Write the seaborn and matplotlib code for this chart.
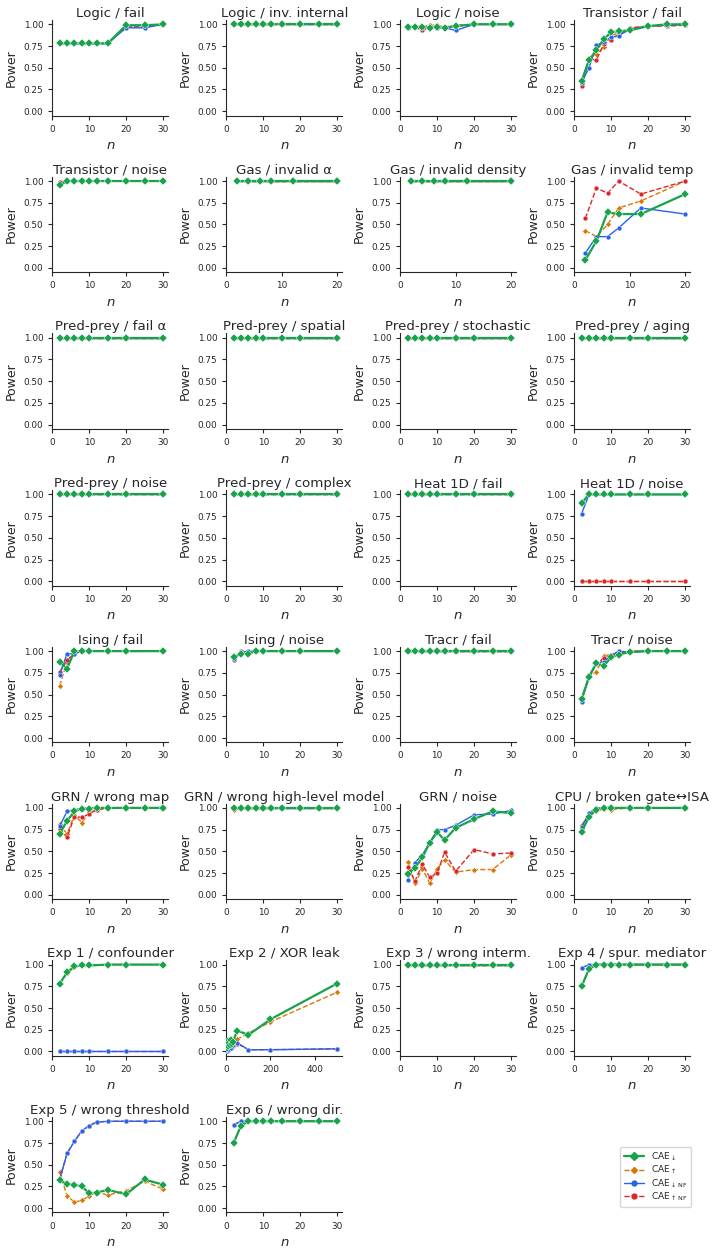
import matplotlib
matplotlib.use("Agg")
import matplotlib.pyplot as plt
import seaborn as sns
import pandas as pd
from matplotlib.lines import Line2D
from matplotlib.ticker import MaxNLocator

sns.set_style("ticks")

# sample sizes
N_STD = [2, 4, 6, 8, 10, 12, 15, 20, 25, 30]
N_MID = [2, 4, 6, 8, 10, 15, 20, 30]
N_GAS = [2, 4, 6, 8, 12, 20]
N_EXP2 = [2, 4, 6, 8, 10, 12, 15, 20, 25, 30, 50, 100, 200, 500]

ONES_STD = [1.0, 1.0, 1.0, 1.0, 1.0, 1.0, 1.0, 1.0, 1.0, 1.0]
ONES_MID = [1.0, 1.0, 1.0, 1.0, 1.0, 1.0, 1.0, 1.0]
ONES_GAS = [1.0, 1.0, 1.0, 1.0, 1.0, 1.0]
ZEROS_MID = [0.0, 0.0, 0.0, 0.0, 0.0, 0.0, 0.0, 0.0]

# series order in each panel: CAE_down, CAE_up, CAE_down_NF, CAE_up_NF
logic_fail_down = [0.78, 0.78, 0.78, 0.78, 0.78, 0.78, 0.78, 0.99, 0.99, 1.0]
logic_fail_up = [0.78, 0.78, 0.78, 0.78, 0.78, 0.78, 0.78, 0.98, 0.98, 1.0]
logic_fail_down_nf = [0.78, 0.78, 0.78, 0.78, 0.78, 0.78, 0.78, 0.96, 0.96, 1.0]
logic_fail_up_nf = [0.78, 0.78, 0.78, 0.78, 0.78, 0.78, 0.78, 0.97, 0.97, 1.0]

logic_noise_down = [0.97, 0.97, 0.97, 0.96, 0.97, 0.96, 0.98, 1.0, 1.0, 1.0]
logic_noise_up = [0.97, 0.98, 0.97, 0.99, 0.99, 0.97, 0.99, 1.0, 1.0, 1.0]
logic_noise_down_nf = [0.96, 0.97, 0.96, 0.97, 0.96, 0.96, 0.93, 1.0, 1.0, 1.0]
logic_noise_up_nf = [0.97, 0.97, 0.93, 0.97, 0.98, 0.97, 0.98, 1.0, 1.0, 1.0]

trans_fail_down = [0.35, 0.59, 0.70, 0.83, 0.91, 0.92, 0.93, 0.98, 1.0, 1.0]
trans_fail_up = [0.33, 0.61, 0.66, 0.74, 0.87, 0.90, 0.95, 0.98, 0.99, 1.0]
trans_fail_down_nf = [0.33, 0.50, 0.76, 0.80, 0.85, 0.87, 0.94, 0.98, 0.99, 1.0]
trans_fail_up_nf = [0.29, 0.60, 0.59, 0.77, 0.82, 0.88, 0.96, 0.98, 0.98, 0.99]

trans_noise_down = [0.95, 1.0, 1.0, 1.0, 1.0, 1.0, 1.0, 1.0, 1.0, 1.0]
trans_noise_up = [0.98, 1.0, 1.0, 1.0, 1.0, 1.0, 1.0, 1.0, 1.0, 1.0]
trans_noise_down_nf = [0.97, 1.0, 1.0, 1.0, 1.0, 1.0, 1.0, 1.0, 1.0, 1.0]
trans_noise_up_nf = [0.99, 1.0, 1.0, 1.0, 1.0, 1.0, 1.0, 1.0, 1.0, 1.0]

gas_temp_down = [0.09, 0.31, 0.64, 0.62, 0.62, 0.85]
gas_temp_up = [0.43, 0.36, 0.50, 0.69, 0.77, 1.0]
gas_temp_down_nf = [0.17, 0.36, 0.36, 0.46, 0.69, 0.62]
gas_temp_up_nf = [0.57, 0.92, 0.86, 1.0, 0.85, 1.0]

heat_noise_down = [0.90, 1.0, 1.0, 1.0, 1.0, 1.0, 1.0, 1.0]
heat_noise_down_nf = [0.78, 1.0, 1.0, 1.0, 1.0, 1.0, 1.0, 1.0]

ising_fail_down = [0.87, 0.80, 1.0, 1.0, 1.0, 1.0, 1.0, 1.0]
ising_fail_up = [0.60, 0.88, 0.98, 1.0, 1.0, 1.0, 1.0, 1.0]
ising_fail_down_nf = [0.73, 0.97, 0.97, 1.0, 1.0, 1.0, 1.0, 1.0]
ising_fail_up_nf = [0.76, 0.90, 0.97, 1.0, 1.0, 1.0, 1.0, 1.0]

ising_noise_down = [0.93, 0.97, 0.97, 1.0, 1.0, 1.0, 1.0, 1.0]
ising_noise_up = [0.92, 0.98, 0.98, 1.0, 1.0, 1.0, 1.0, 1.0]
ising_noise_down_nf = [0.91, 0.99, 1.0, 1.0, 1.0, 1.0, 1.0, 1.0]
ising_noise_up_nf = [0.90, 1.0, 0.99, 1.0, 1.0, 1.0, 1.0, 1.0]

tracr_noise_down = [0.45, 0.70, 0.86, 0.83, 0.93, 0.96, 0.99, 1.0, 1.0, 1.0]
tracr_noise_up = [0.44, 0.70, 0.76, 0.95, 0.96, 0.97, 1.0, 1.0, 1.0, 1.0]
tracr_noise_down_nf = [0.42, 0.72, 0.86, 0.88, 0.95, 1.0, 0.99, 1.0, 1.0, 1.0]
tracr_noise_up_nf = [0.44, 0.72, 0.85, 0.92, 0.96, 0.98, 1.0, 1.0, 1.0, 1.0]

grn_map_down = [0.70, 0.85, 0.96, 0.99, 0.99, 1.0, 1.0, 1.0, 1.0, 1.0]
grn_map_up = [0.81, 0.70, 0.92, 0.83, 0.95, 0.97, 1.0, 1.0, 1.0, 1.0]
grn_map_down_nf = [0.79, 0.96, 0.98, 0.99, 1.0, 1.0, 1.0, 1.0, 1.0, 1.0]
grn_map_up_nf = [0.76, 0.66, 0.90, 0.89, 0.93, 0.98, 1.0, 1.0, 1.0, 1.0]

grn_hl_up = [0.98, 1.0, 1.0, 1.0, 1.0, 1.0, 1.0, 1.0, 1.0, 1.0]

grn_noise_down = [0.24, 0.31, 0.43, 0.60, 0.72, 0.63, 0.77, 0.87, 0.96, 0.94]
grn_noise_up = [0.38, 0.13, 0.30, 0.13, 0.30, 0.40, 0.26, 0.29, 0.29, 0.46]
grn_noise_down_nf = [0.17, 0.37, 0.46, 0.60, 0.75, 0.75, 0.80, 0.92, 0.93, 0.97]
grn_noise_up_nf = [0.32, 0.16, 0.35, 0.20, 0.25, 0.49, 0.27, 0.52, 0.47, 0.48]

cpu_down = [0.72, 0.90, 0.98, 1.0, 1.0, 1.0, 1.0, 1.0]
cpu_up = [0.80, 0.92, 0.96, 0.99, 0.98, 1.0, 1.0, 1.0]
cpu_down_nf = [0.78, 0.94, 1.0, 1.0, 1.0, 1.0, 1.0, 1.0]
cpu_up_nf = [0.77, 0.93, 0.98, 1.0, 1.0, 1.0, 1.0, 1.0]

exp1_down = [0.78, 0.91, 0.98, 0.99, 0.99, 1.0, 1.0, 1.0]
exp1_up = [0.78, 0.90, 0.97, 0.99, 0.99, 1.0, 1.0, 1.0]

exp2_down = [0.04, 0.08, 0.10, 0.12, 0.06, 0.10, 0.08, 0.13, 0.09, 0.11, 0.24, 0.19, 0.37, 0.78]
exp2_up = [0.03, 0.06, 0.08, 0.10, 0.05, 0.09, 0.07, 0.11, 0.08, 0.10, 0.14, 0.21, 0.34, 0.68]
exp2_down_nf = [0.01, 0.02, 0.03, 0.02, 0.04, 0.03, 0.05, 0.04, 0.06, 0.07, 0.10, 0.02, 0.02, 0.03]
exp2_up_nf = [0.01, 0.02, 0.02, 0.02, 0.03, 0.03, 0.04, 0.04, 0.05, 0.06, 0.09, 0.02, 0.02, 0.03]

exp4_down = [0.75, 0.95, 1.0, 1.0, 1.0, 1.0, 1.0, 1.0, 1.0, 1.0]
exp4_down_nf = [0.96, 1.0, 1.0, 1.0, 1.0, 1.0, 1.0, 1.0, 1.0, 1.0]

exp5_down = [0.32, 0.28, 0.27, 0.25, 0.17, 0.18, 0.21, 0.16, 0.33, 0.27]
exp5_up = [0.42, 0.14, 0.07, 0.09, 0.14, 0.19, 0.15, 0.20, 0.31, 0.22]
exp5_down_nf = [0.33, 0.63, 0.77, 0.89, 0.95, 0.99, 1.0, 1.0, 1.0, 1.0]

# (title, n, down, up, down_nf, up_nf)
panels = [
    ("Logic / fail", N_STD, logic_fail_down, logic_fail_up, logic_fail_down_nf, logic_fail_up_nf),
    ("Logic / inv. internal", N_STD, ONES_STD, ONES_STD, ONES_STD, ONES_STD),
    ("Logic / noise", N_STD, logic_noise_down, logic_noise_up, logic_noise_down_nf, logic_noise_up_nf),
    ("Transistor / fail", N_STD, trans_fail_down, trans_fail_up, trans_fail_down_nf, trans_fail_up_nf),
    ("Transistor / noise", N_STD, trans_noise_down, trans_noise_up, trans_noise_down_nf, trans_noise_up_nf),
    ("Gas / invalid α", N_GAS, ONES_GAS, ONES_GAS, ONES_GAS, ONES_GAS),
    ("Gas / invalid density", N_GAS, ONES_GAS, ONES_GAS, ONES_GAS, ONES_GAS),
    ("Gas / invalid temp", N_GAS, gas_temp_down, gas_temp_up, gas_temp_down_nf, gas_temp_up_nf),
    ("Pred-prey / fail α", N_MID, ONES_MID, ONES_MID, ONES_MID, ONES_MID),
    ("Pred-prey / spatial", N_MID, ONES_MID, ONES_MID, ONES_MID, ONES_MID),
    ("Pred-prey / stochastic", N_MID, ONES_MID, ONES_MID, ONES_MID, ONES_MID),
    ("Pred-prey / aging", N_MID, ONES_MID, ONES_MID, ONES_MID, ONES_MID),
    ("Pred-prey / noise", N_MID, ONES_MID, ONES_MID, ONES_MID, ONES_MID),
    ("Pred-prey / complex", N_MID, ONES_MID, ONES_MID, ONES_MID, ONES_MID),
    ("Heat 1D / fail", N_MID, ONES_MID, ONES_MID, ONES_MID, ONES_MID),
    ("Heat 1D / noise", N_MID, heat_noise_down, ZEROS_MID, heat_noise_down_nf, ZEROS_MID),
    ("Ising / fail", N_MID, ising_fail_down, ising_fail_up, ising_fail_down_nf, ising_fail_up_nf),
    ("Ising / noise", N_MID, ising_noise_down, ising_noise_up, ising_noise_down_nf, ising_noise_up_nf),
    ("Tracr / fail", N_STD, ONES_STD, ONES_STD, ONES_STD, ONES_STD),
    ("Tracr / noise", N_STD, tracr_noise_down, tracr_noise_up, tracr_noise_down_nf, tracr_noise_up_nf),
    ("GRN / wrong map", N_STD, grn_map_down, grn_map_up, grn_map_down_nf, grn_map_up_nf),
    ("GRN / wrong high-level model", N_STD, ONES_STD, grn_hl_up, ONES_STD, ONES_STD),
    ("GRN / noise", N_STD, grn_noise_down, grn_noise_up, grn_noise_down_nf, grn_noise_up_nf),
    ("CPU / broken gate↔ISA", N_MID, cpu_down, cpu_up, cpu_down_nf, cpu_up_nf),
    ("Exp 1 / confounder", N_MID, exp1_down, exp1_up, ZEROS_MID, ZEROS_MID),
    ("Exp 2 / XOR leak", N_EXP2, exp2_down, exp2_up, exp2_down_nf, exp2_up_nf),
    ("Exp 3 / wrong interm.", N_STD, ONES_STD, ONES_STD, ONES_STD, ONES_STD),
    ("Exp 4 / spur. mediator", N_STD, exp4_down, exp4_down, exp4_down_nf, exp4_down_nf),
    ("Exp 5 / wrong threshold", N_STD, exp5_down, exp5_up, exp5_down_nf, exp5_down_nf),
    ("Exp 6 / wrong dir.", N_STD, exp4_down, exp4_down, exp4_down_nf, exp4_down_nf),
]

labels = [r"CAE$_\downarrow$", r"CAE$_\uparrow$",
          r"CAE$_{\downarrow\,\mathrm{NF}}$", r"CAE$_{\uparrow\,\mathrm{NF}}$"]
colors = ["#16a34a", "#d97706", "#2563eb", "#dc2626"]
markers = ["D", "D", "o", "o"]
styles = ["-", "--", "-", "--"]
widths = [1.6, 1.0, 1.0, 1.0]
msizes = [4, 3, 3.5, 3.5]
zorders = [5, 2, 4, 3]

fig, axes = plt.subplots(8, 4, figsize=(7.16, 12.5), dpi=100)
fig.subplots_adjust(left=0.073, right=0.964, top=0.984, bottom=0.030,
                    wspace=0.5, hspace=0.64)
axes = axes.flatten()

for i, (title, n, *series) in enumerate(panels):
    ax = axes[i]
    # orange, red, blue, then green on top
    for k in [1, 3, 2, 0]:
        df = pd.DataFrame({"n": n, "power": series[k]})
        sns.lineplot(data=df, x="n", y="power", ax=ax, color=colors[k],
                     marker=markers[k], markersize=msizes[k], linestyle=styles[k],
                     linewidth=widths[k], markeredgewidth=0.3, zorder=zorders[k])
    ax.set_title(title, fontsize=9.6, pad=2)
    ax.set_xlim(left=0)
    ax.xaxis.set_major_locator(MaxNLocator(nbins=4, steps=[1, 2, 5, 10]))
    ax.set_ylim(-0.05, 1.05)
    ax.set_yticks([0, 0.25, 0.5, 0.75, 1.0])
    ax.set_ylabel("Power", fontsize=9)
    ax.set_xlabel("$n$", fontsize=9.5)
    ax.tick_params(labelsize=6.4, length=3, width=0.8)
    sns.despine(ax=ax)

for ax in axes[len(panels):]:
    ax.axis("off")

handles = [Line2D([0], [0], color=colors[k], marker=markers[k], markersize=msizes[k],
                  linestyle=styles[k], linewidth=widths[k]) for k in range(4)]
fig.legend(handles, labels, loc="lower right", bbox_to_anchor=(0.972, 0.031),
           fontsize=6.5, frameon=True, handlelength=2.2, labelspacing=0.1,
           borderpad=0.4)
fig.savefig("out.png", dpi=100)
